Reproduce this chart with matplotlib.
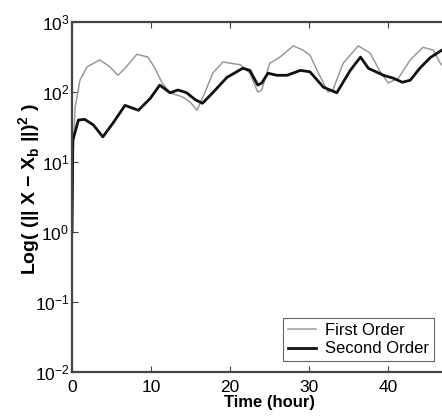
import numpy as np
import matplotlib
matplotlib.use("Agg")
import matplotlib.pyplot as plt
from matplotlib.ticker import LogLocator, NullLocator

plt.rcParams['font.family'] = ['Liberation Sans', 'DejaVu Sans']
plt.rcParams['mathtext.fontset'] = 'custom'
plt.rcParams['mathtext.rm'] = 'Liberation Sans'
plt.rcParams['mathtext.bf'] = 'Liberation Sans:bold'

# valores (log10 del error)
t_first = [0, 0.15, 0.4, 1.0, 1.9, 3.5, 4.8, 5.8, 6.7, 8.2, 9.6, 10.5, 11.4, 12.4, 14.0,
           15.0, 15.8, 16.8, 17.8, 19.1, 21.3, 22.5, 23.5, 24.0, 25.0, 26.3, 28.0, 29.2,
           30.1, 31.0, 32.4, 33.0, 34.3, 36.2, 37.7, 39.0, 40.0, 41.3, 42.8, 44.4, 45.7,
           46.6, 48]
log_first = [0.0, 1.2, 1.79, 2.17, 2.36, 2.46, 2.36, 2.24, 2.34, 2.54, 2.5, 2.34, 2.13, 1.99,
             1.93, 1.85, 1.74, 1.99, 2.27, 2.43, 2.39, 2.27, 2.0, 2.03, 2.41, 2.5, 2.66, 2.6,
             2.53, 2.31, 2.0, 2.03, 2.41, 2.66, 2.56, 2.29, 2.13, 2.2, 2.46, 2.64, 2.6,
             2.41, 2.25]

t_second = [0, 0.1, 0.8, 1.6, 2.7, 3.9, 5.2, 6.7, 8.4, 9.9, 11.1, 12.4, 13.4, 14.5, 15.6,
            16.5, 17.8, 19.6, 21.6, 22.5, 23.5, 24.0, 24.8, 25.9, 27.2, 28.9, 30.1, 31.8,
            33.5, 35.2, 36.5, 37.5, 39.4, 40.6, 41.8, 42.8, 44.0, 45.3, 46.8, 48]
log_second = [0.0, 1.31, 1.6, 1.61, 1.53, 1.36, 1.56, 1.81, 1.74, 1.91, 2.1, 1.99, 2.03,
              1.99, 1.89, 1.84, 1.99, 2.21, 2.34, 2.31, 2.1, 2.13, 2.27, 2.24, 2.24, 2.31,
              2.29, 2.07, 1.99, 2.31, 2.5, 2.34, 2.24, 2.2, 2.14, 2.17, 2.34, 2.49, 2.6, 2.65]

fig = plt.figure(figsize=(4.42, 4.17), dpi=100)
ax = fig.add_axes([0.163, 0.108, 0.894, 0.839])

ax.plot(t_first, 10 ** np.array(log_first), color='#9a9a9a', lw=1.1, label='First Order')
ax.plot(t_second, 10 ** np.array(log_second), color='#111111', lw=2.0, label='Second Order')

ax.set_yscale('log')
ax.set_xlim(0, 50)
ax.set_ylim(1e-2, 1e3)
ax.set_xticks([0, 10, 20, 30, 40])
ax.yaxis.set_major_locator(LogLocator(base=10, numticks=10))
ax.yaxis.set_minor_locator(NullLocator())
ax.tick_params(direction='in', top=True, right=True, labelsize=12.5, length=4,
               color='#444444', pad=2)
ax.tick_params(axis='x', pad=6)
for s in ax.spines.values():
    s.set_linewidth(1.6)
    s.set_color('#444444')

ax.set_xlabel('Time (hour)', fontsize=12, fontweight='bold', labelpad=0)
ax.set_ylabel(r'Log( (|| X $\mathbf{-}$ X$_\mathbf{b}$ ||)$^\mathbf{2}$ )',
              fontsize=14, fontweight='bold')
ax.yaxis.set_label_coords(-0.074, 0.523)

leg = ax.legend(loc='upper left', bbox_to_anchor=(0.534, 0.154), fontsize=12,
                fancybox=False, framealpha=1, edgecolor='#666666',
                borderpad=0.3, handlelength=1.7, handletextpad=0.5,
                labelspacing=0.2, borderaxespad=0)
leg.get_frame().set_linewidth(0.8)

fig.savefig('out.png', dpi=100)
